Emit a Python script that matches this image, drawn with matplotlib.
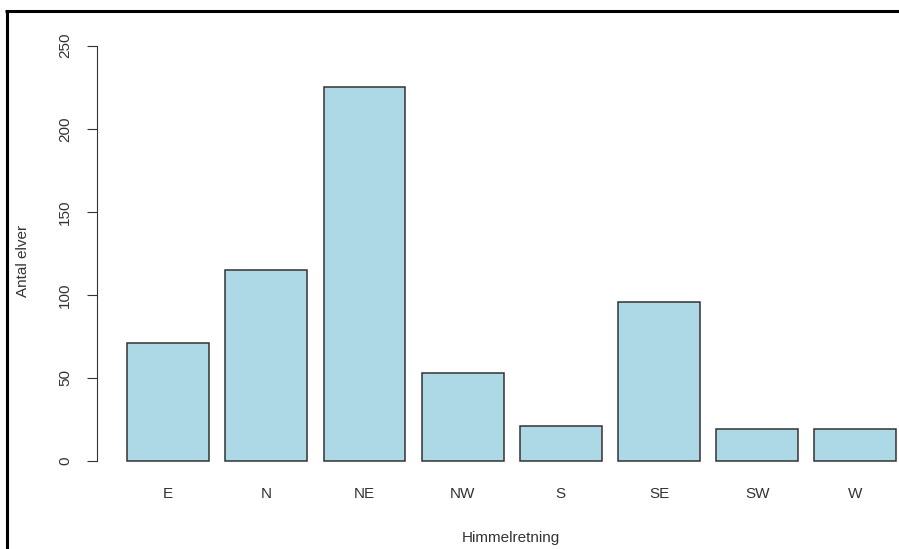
import matplotlib
matplotlib.use('Agg')
import matplotlib.pyplot as plt
from matplotlib.lines import Line2D

plt.rcParams['font.family'] = ['Liberation Sans', 'DejaVu Sans']

# antal elver per himmelretning
retninger = ['E', 'N', 'NE', 'NW', 'S', 'SE', 'SW', 'W']
antal = [71, 115, 225, 53, 21, 96, 19, 19]
yticks = [0, 50, 100, 150, 200, 250]

W, H = 899, 549
fig = plt.figure(figsize=(W / 100, H / 100), dpi=100)

# plot region in pixels (R style barplot, partly cut at the right)
left, right, top, bottom = 96.5, 927.0, 29.1, 477.6
ax = fig.add_axes([left / W, 1 - bottom / H, (right - left) / W, (bottom - top) / H])

# R barplot: width 1, space 0.2
xs = [0.2 + 1.2 * i + 0.5 for i in range(len(antal))]
ax.bar(xs, antal, width=1.0, color='#add8e6', edgecolor='#333333', linewidth=1.1)

ax.set_xlim(-0.176, 9.976)
ax.set_ylim(-10, 260)

for s in ['top', 'right', 'bottom']:
    ax.spines[s].set_visible(False)
ax.spines['left'].set_bounds(0, 250)
ax.spines['left'].set_color('#333333')

ax.set_yticks(yticks)
ax.set_yticklabels([str(v) for v in yticks], rotation=90, va='center', fontsize=11, color='#333333')
ax.tick_params(axis='y', length=7.5, width=0.8, color='#333333', pad=10)

ax.set_xticks(xs)
ax.set_xticklabels(retninger, fontsize=11, color='#333333')
ax.tick_params(axis='x', length=0, pad=7)

fig.text(511 / W, 1 - 538 / H, 'Himmelretning', ha='center', va='center',
         fontsize=11, color='#333333')
fig.text(23 / W, 1 - 261 / H, 'Antal elver', ha='center', va='center', rotation=90,
         fontsize=11, color='#333333')

# frame lines around the window
fig.add_artist(Line2D([5 / W, 1], [1 - 11 / H, 1 - 11 / H], transform=fig.transFigure,
                      color='black', linewidth=2.2, solid_capstyle='butt'))
fig.add_artist(Line2D([6.5 / W, 6.5 / W], [0, 1 - 10 / H], transform=fig.transFigure,
                      color='black', linewidth=2.2, solid_capstyle='butt'))

fig.savefig('out.png', dpi=100)
